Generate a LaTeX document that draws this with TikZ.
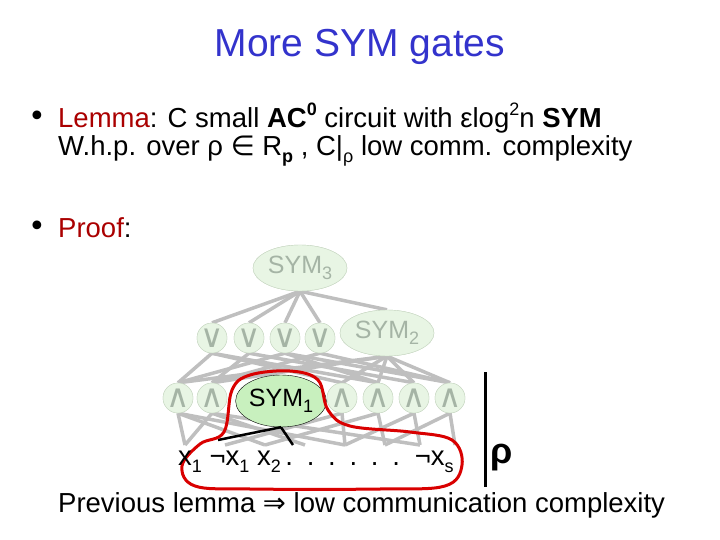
\documentclass[tikz,border=0pt]{standalone}
\usepackage{fontspec}
\setmainfont{Liberation Sans}
\newfontfamily\dv{DejaVu Sans}
\usetikzlibrary{shapes.geometric}
\definecolor{gfill}{RGB}{232,245,228}
\definecolor{gline}{RGB}{200,215,195}
\definecolor{gtext}{RGB}{165,180,165}
\definecolor{sfill}{RGB}{200,240,190}
\definecolor{ttl}{RGB}{51,51,204}
\definecolor{lred}{RGB}{170,0,0}
\tikzset{
 gate/.style={circle,draw=gline,fill=gfill,text=gtext,minimum size=30pt,inner sep=0pt,font=\dv\fontsize{32}{32}\selectfont},
 bigg/.style={ellipse,draw=gline,fill=gfill,text=gtext,minimum width=94pt,minimum height=46pt,inner sep=0pt,font=\fontsize{25}{25}\selectfont},
 wire/.style={draw=gray!50,line width=3.5pt},
 txt/.style={anchor=west,inner sep=0pt,font=\fontsize{27.5}{27.5}\selectfont}
}
\newcommand{\sbs}[1]{\raisebox{-0.25em}{\fontsize{18}{18}\selectfont #1}}
\newcommand{\sps}[1]{\raisebox{0.45em}{\fontsize{18}{18}\selectfont #1}}
\begin{document}
\begin{tikzpicture}[x=1pt,y=-1pt]
\useasboundingbox (0,0) rectangle (720,540);
\node[text=ttl,font=\fontsize{39}{39}\selectfont] (title) at (360,47) {More SYM gates};
\node[txt,font=\dv\fontsize{30}{30}\selectfont] (b1) at (28,119) {•};
\node[txt] (l1) at (58,118) {\textcolor{lred}{Lemma}: C small \textbf{AC\sps{\textbf{0}}} circuit with εlog\sps{2}n \textbf{SYM}};
\node[txt] (l2) at (58,151) {W.h.p. over ρ {\dv ∈} R\sbs{\textbf{p}} , C|\sbs{ρ} low comm. complexity};
\node[txt,font=\dv\fontsize{30}{30}\selectfont] (b2) at (28,229) {•};
\node[txt] (l3) at (58,228) {\textcolor{lred}{Proof}:};
\coordinate (v1) at (185,445); \coordinate (v2) at (225,445); \coordinate (v3) at (265,445);
\coordinate (v4) at (305,445); \coordinate (v5) at (345,445); \coordinate (v6) at (385,445);
\coordinate (v7) at (420,445); \coordinate (v8) at (455,445);
\node[bigg] (s3) at (300,268) {SYM\sbs{3}};
\node[gate] (o1) at (212,338) {∨};
\node[gate] (o2) at (249,338) {∨};
\node[gate] (o3) at (285,338) {∨};
\node[gate] (o4) at (320,338) {∨};
\node[bigg] (s2) at (387,333) {SYM\sbs{2}};
\node[gate] (a1) at (178,398) {∧};
\node[gate] (a2) at (212,398) {∧};
\node[gate] (a3) at (342,398) {∧};
\node[gate] (a4) at (378,398) {∧};
\node[gate] (a5) at (414,398) {∧};
\node[gate] (a6) at (450,398) {∧};
\foreach \t in {o1,o2,o3,o4,s2} \draw[wire] (s3.south) -- (\t.north);
\foreach \s/\t in {o1/a1,o1/a3,o2/a2,o2/a5,o3/a1,o3/a4,o4/a2,o4/a6,s2/a1,s2/a2,s2/a3,s2/a4,s2/a5,s2/a6,o3/a6,o1/a4}
 \draw[wire] (\s.south) -- (\t.north);
\foreach \s/\t in {a1/v1,a1/v3,a2/v1,a2/v4,a3/v5,a3/v2,a4/v6,a4/v3,a5/v7,a5/v5,a6/v8,a6/v6,a1/v5,a2/v7}
 \draw[wire] (\s.south) -- (\t);
\foreach \x/\y in {212/338,249/338,285/338,320/338} \node[gate] at (\x,\y) {∨};
\foreach \x/\y in {178/398,212/398,342/398,378/398,414/398,450/398} \node[gate] at (\x,\y) {∧};
\node[bigg] at (s3) {SYM\sbs{3}};
\node[bigg] at (s2) {SYM\sbs{2}};
\node[ellipse,draw=black,fill=sfill,minimum width=82pt,minimum height=52pt,inner sep=0pt,font=\fontsize{25}{25}\selectfont] (s1) at (281,401) {SYM\sbs{1}};
\coordinate (k1) at (218,440); \coordinate (k2) at (293,445);
\draw[black,line width=2.5pt] (s1.south) -- (k1);
\draw[black,line width=2.5pt] (s1.south) -- (k2);
\draw[red!85!black,line width=3pt] plot[smooth cycle,tension=0.6] coordinates {(224,432) (232,390) (250,375) (290,371) (318,380) (328,410) (350,426) (410,432) (452,440) (462,465) (445,486) (380,489) (250,489) (195,486) (182,466) (200,444)};
\node[inner sep=0pt,anchor=west,font=\fontsize{27.5}{27.5}\selectfont] (vars) at (178,462) {x\sbs{1} ¬x\sbs{1} x\sbs{2}\,.\,\,\,.\,\,\,.\,\,\,.\,\,\,.\,\,\,.\, ¬x\sbs{s}};
\coordinate (r1) at (485,372); \coordinate (r2) at (485,487);
\draw[line width=3pt] (r1) -- (r2);
\node[font=\fontsize{36}{36}\selectfont\bfseries] (rho) at (502,458) {ρ};
\node[txt] (l4) at (58,505) {Previous lemma {\dv ⇒} low communication complexity};
\end{tikzpicture}
\end{document}
